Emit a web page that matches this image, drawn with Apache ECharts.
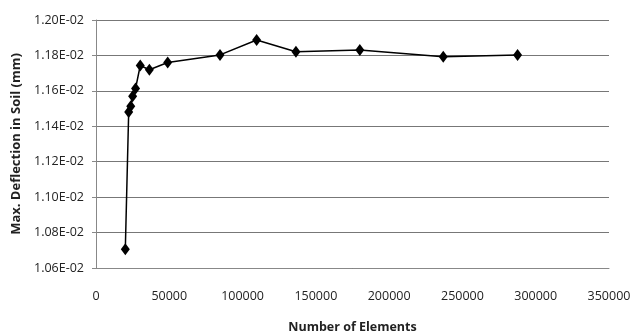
<!DOCTYPE html>
<html><head><meta charset="utf-8">
<script src="https://cdn.jsdelivr.net/npm/echarts@6/dist/echarts.min.js"></script>
<style>html,body{margin:0;padding:0;background:#fff}#c{width:633px;height:334px}</style>
</head><body><div id="c"></div>
<script>
const elements = [20000, 22300, 23700, 25000, 27000, 30200, 36400, 48900, 84600, 109600, 136400, 180000, 236900, 287600];
const deflection = [0.010706, 0.011481, 0.011513, 0.011569, 0.011614, 0.011743, 0.011719, 0.011760, 0.011803, 0.011887, 0.011821, 0.011831, 0.011793, 0.011803];
const xTitle = 'Number of Elements';
const yTitle = 'Max. Deflection in Soil (mm)';
const font = "'Open Sans', sans-serif";
function sci(v){
  const s = v.toExponential(2).toUpperCase();
  const m = s.split('E');
  let e = parseInt(m[1],10);
  const sign = e < 0 ? '-' : '+';
  e = Math.abs(e);
  return m[0] + 'E' + sign + (e < 10 ? '0' + e : e);
}
const chart = echarts.init(document.getElementById('c'));
chart.setOption({
  animation:false,
  grid:{left:96, right:24, top:20, bottom:66, outerBoundsMode:'none', containLabel:false},
  xAxis:{type:'value', min:0, max:350000, interval:50000,
    name:xTitle, nameLocation:'middle', nameGap:53,
    nameTextStyle:{fontFamily:font, fontSize:12.5, fontWeight:'bold', color:'#222'},
    axisLine:{show:true, lineStyle:{color:'#888'}}, axisTick:{show:false},
    axisLabel:{fontFamily:font, fontSize:12.5, color:'#222', margin:22, formatter:v=>String(v)},
    splitLine:{show:false}},
  yAxis:{type:'value', min:0.0106, max:0.0120, interval:0.0002,
    name:yTitle, nameLocation:'middle', nameGap:72,
    nameTextStyle:{fontFamily:font, fontSize:13, fontWeight:'bold', color:'#222'},
    axisLine:{show:true, lineStyle:{color:'#888'}},
    axisTick:{show:true, length:4, lineStyle:{color:'#888'}},
    axisLabel:{fontFamily:font, fontSize:12.5, color:'#222', margin:12, formatter:sci},
    splitLine:{show:true, lineStyle:{color:'#777', width:1.2}}},
  series:[{type:'line', data:elements.map((x,i)=>[x, deflection[i]]),
    symbol:'diamond', symbolSize:[9,12],
    lineStyle:{color:'#000', width:1.5},
    itemStyle:{color:'#000'}}]
});
</script></body></html>
